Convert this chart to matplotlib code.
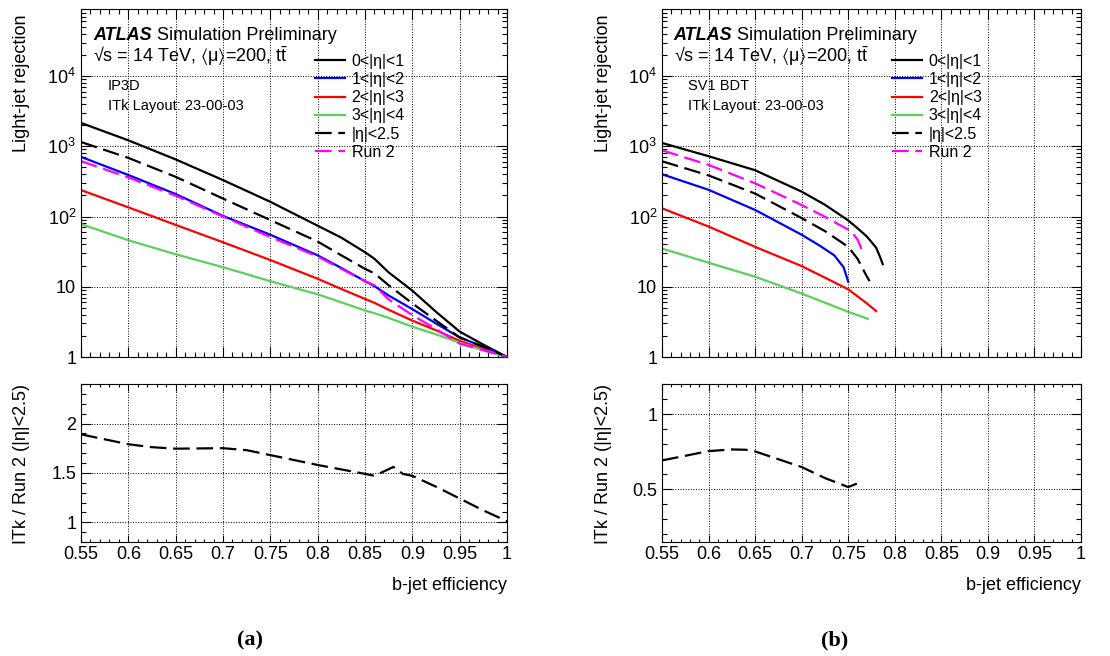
import math
import matplotlib
matplotlib.use('Agg')
import matplotlib.pyplot as plt
from matplotlib.ticker import FixedLocator, MultipleLocator, LogLocator, FuncFormatter, NullFormatter

plt.rcParams['font.family'] = ['Liberation Sans', 'DejaVu Sans']
plt.rcParams['mathtext.fontset'] = 'custom'
plt.rcParams['mathtext.rm'] = 'Liberation Sans'
plt.rcParams['mathtext.it'] = 'Liberation Sans:italic'
plt.rcParams['mathtext.bf'] = 'Liberation Sans:bold'
plt.rcParams['mathtext.fallback'] = 'stixsans'

# ---- data ----
# (a) IP3D
eff_a = [0.55, 0.6, 0.65, 0.7, 0.75, 0.8, 0.825, 0.85, 0.86, 0.875, 0.9, 0.925, 0.95, 0.975, 1.0]
ip3d_eta01 = [2150, 1215, 650, 330, 162, 74, 50, 31, 25, 16, 8.8, 4.4, 2.3, 1.5, 1.0]
ip3d_eta12 = [706, 390, 209, 102, 55, 28, 18.5, 12, 10.2, 7.5, 4.8, 3.0, 1.9, 1.4, 1.0]
ip3d_eta23 = [238, 135, 76, 43, 24, 13, 9.3, 6.7, 5.9, 4.7, 3.3, 2.4, 1.7, 1.3, 1.0]
ip3d_eta34 = [78, 46, 29, 19, 12, 7.8, 6.0, 4.6, 4.2, 3.6, 2.7, 2.1, 1.6, 1.25, 1.0]
ip3d_eta25 = [1150, 683, 367, 180, 89, 44, 28, 18, 15.5, 10.5, 5.8, 3.3, 1.9, 1.4, 1.0]
ip3d_run2 = [615, 360, 198, 100, 51, 27, 18, 12, 10.5, 6.6, 3.95, 2.5, 1.55, 1.25, 1.0]

ratio_eff_a = [0.55, 0.575, 0.6, 0.625, 0.65, 0.7, 0.725, 0.75, 0.8, 0.85, 0.86,
               0.88, 0.89, 0.9, 0.925, 0.95, 0.975, 1.0]
ratio_a = [1.89, 1.84, 1.79, 1.76, 1.745, 1.75, 1.73, 1.68, 1.58, 1.49, 1.47,
           1.56, 1.49, 1.47, 1.36, 1.24, 1.12, 1.01]

# (b) SV1 BDT
eff_b01 = [0.55, 0.6, 0.65, 0.7, 0.725, 0.75, 0.76, 0.77, 0.78, 0.785, 0.787]
sv1_eta01 = [1115, 722, 456, 226, 147, 88, 68, 52, 36, 25, 21]
eff_b12 = [0.55, 0.6, 0.65, 0.7, 0.72, 0.735, 0.745, 0.75]
sv1_eta12 = [400, 240, 124, 55, 38, 28, 19, 11.8]
eff_b23 = [0.55, 0.6, 0.65, 0.7, 0.75, 0.77, 0.78]
sv1_eta23 = [131, 72, 37, 19.7, 9.2, 5.8, 4.5]
eff_b34 = [0.55, 0.6, 0.65, 0.7, 0.75, 0.771]
sv1_eta34 = [35, 22, 13.9, 8.0, 4.4, 3.5]
eff_b25 = [0.55, 0.6, 0.65, 0.7, 0.725, 0.75, 0.76, 0.77, 0.773]
sv1_eta25 = [612, 385, 212, 95, 62, 37, 25, 14, 12]
eff_brun2 = [0.55, 0.6, 0.65, 0.7, 0.725, 0.75, 0.755, 0.76, 0.763, 0.765]
sv1_run2 = [877, 543, 297, 146, 99, 65, 57, 47, 38, 31]

ratio_eff_b = [0.55, 0.6, 0.625, 0.64, 0.65, 0.7, 0.725, 0.75, 0.76]
ratio_b = [0.692, 0.754, 0.765, 0.763, 0.752, 0.648, 0.575, 0.515, 0.54]

labels = ['0<|η|<1', '1<|η|<2', '2<|η|<3', '3<|η|<4', '|η|<2.5', 'Run 2']
colors = ['black', '#0000ff', '#ff0000', '#5ccf5c', 'black', '#ff00ff']
dash = (7.5, 3)


def logfmt(v, pos):
    if v == 1:
        return '1'
    if v == 10:
        return '10'
    return '$10^{%d}$' % int(round(math.log10(v)))


def style(ax):
    ax.tick_params(which='both', direction='in', top=True, right=True, labelsize=13)
    ax.tick_params(which='major', length=7, width=0.8)
    ax.tick_params(which='minor', length=3.5, width=0.8)
    ax.grid(True, which='major', linestyle=':', color='black', linewidth=0.7)
    for s in ax.spines.values():
        s.set_linewidth(0.8)


fig = plt.figure(figsize=(11.1, 6.56), dpi=100)

W, H = 1110.0, 656.0
panels = [(81, 507), (662, 1081)]
tops = []
bots = []
for (xl, xr) in panels:
    axt = fig.add_axes([xl / W, 1 - 357 / H, (xr - xl) / W, 348 / H])
    axb = fig.add_axes([xl / W, 1 - 542 / H, (xr - xl) / W, 158 / H])
    tops.append(axt)
    bots.append(axb)

top_data = [
    [(eff_a, ip3d_eta01), (eff_a, ip3d_eta12), (eff_a, ip3d_eta23),
     (eff_a, ip3d_eta34), (eff_a, ip3d_eta25), (eff_a, ip3d_run2)],
    [(eff_b01, sv1_eta01), (eff_b12, sv1_eta12), (eff_b23, sv1_eta23),
     (eff_b34, sv1_eta34), (eff_b25, sv1_eta25), (eff_brun2, sv1_run2)],
]
tagger = ['IP3D', 'SV1 BDT']
ratios = [(ratio_eff_a, ratio_a), (ratio_eff_b, ratio_b)]
ratio_lims = [(0.8, 2.4), (0.15, 1.2)]
ratio_major = [0.5, 0.5]

for i in range(2):
    ax = tops[i]
    for j, (xs, ys) in enumerate(top_data[i]):
        if j >= 4:
            ax.plot(xs, ys, color=colors[j], lw=1.6, dashes=dash, label=labels[j])
        else:
            ax.plot(xs, ys, color=colors[j], lw=1.6, label=labels[j])
    ax.set_yscale('log')
    ax.set_xlim(0.55, 1.0)
    ax.set_ylim(1, 9e4)
    ax.xaxis.set_major_locator(MultipleLocator(0.05))
    ax.xaxis.set_minor_locator(MultipleLocator(0.01))
    ax.xaxis.set_major_formatter(NullFormatter())
    ax.yaxis.set_major_locator(FixedLocator([1, 10, 100, 1000, 10000]))
    ax.yaxis.set_minor_locator(LogLocator(base=10, subs=range(2, 10), numticks=20))
    ax.yaxis.set_major_formatter(FuncFormatter(logfmt))
    ax.yaxis.set_minor_formatter(NullFormatter())
    style(ax)
    ax.set_ylabel('Light-jet rejection', fontsize=13, loc='top')
    ax.yaxis.set_label_coords(-0.12, 0.985)

    ax.text(0.028, 0.911, 'ATLAS', transform=ax.transAxes, fontsize=13,
            fontweight='bold', fontstyle='italic', va='baseline')
    ax.text(0.178, 0.911, 'Simulation Preliminary', transform=ax.transAxes,
            fontsize=13, va='baseline')
    ax.text(0.028, 0.847,
            '√s = 14 TeV, $\\langle$μ$\\rangle$=200, t$\\bar{\\mathrm{t}}$',
            transform=ax.transAxes, fontsize=13, va='baseline')
    ax.text(0.063, 0.767, tagger[i], transform=ax.transAxes, fontsize=10.5, va='baseline')
    ax.text(0.063, 0.710, 'ITk Layout: 23-00-03', transform=ax.transAxes,
            fontsize=10.5, va='baseline')

    ax.legend(loc='upper left', bbox_to_anchor=(0.549, 0.871), frameon=False,
              fontsize=11.5, handlelength=1.9, handletextpad=0.4,
              labelspacing=0.2, borderpad=0, borderaxespad=0)

    axb = bots[i]
    axb.plot(ratios[i][0], ratios[i][1], color='black', lw=1.6, dashes=dash)
    axb.set_xlim(0.55, 1.0)
    axb.set_ylim(*ratio_lims[i])
    axb.xaxis.set_major_locator(MultipleLocator(0.05))
    axb.xaxis.set_minor_locator(MultipleLocator(0.01))
    axb.xaxis.set_major_formatter(FuncFormatter(lambda v, p: '%g' % round(v, 2)))
    axb.yaxis.set_major_locator(MultipleLocator(ratio_major[i]))
    axb.yaxis.set_minor_locator(MultipleLocator(0.1))
    axb.yaxis.set_major_formatter(FuncFormatter(lambda v, p: '%g' % round(v, 2)))
    style(axb)
    axb.tick_params(axis='x', which='major', length=5, pad=3)
    axb.tick_params(axis='x', which='minor', length=2.5)
    axb.set_ylabel('ITk / Run 2 (|η|<2.5)', fontsize=13, loc='top')
    axb.yaxis.set_label_coords(-0.12, 1.0)
    axb.set_xlabel('b-jet efficiency', fontsize=13, loc='right', labelpad=10)

fig.text(250 / W, 1 - 640 / H, '(a)', fontsize=16, fontweight='bold',
         family='Liberation Serif', ha='center', va='center')
fig.text(835 / W, 1 - 640 / H, '(b)', fontsize=16, fontweight='bold',
         family='Liberation Serif', ha='center', va='center')

fig.savefig('out.png', dpi=100)
